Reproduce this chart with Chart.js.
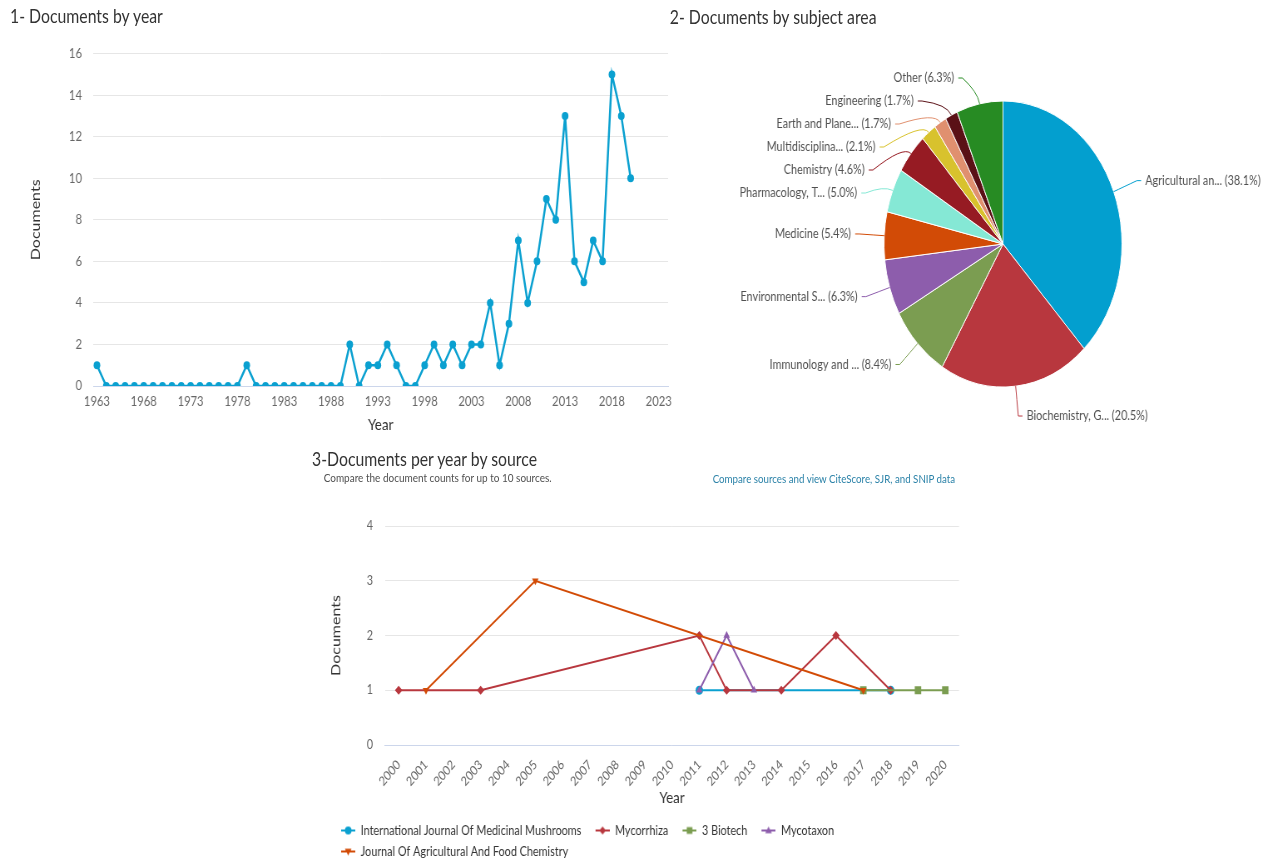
<!DOCTYPE html>
<html>
<head>
<meta charset="utf-8">
<script src="https://cdn.jsdelivr.net/npm/chart.js@4.4.0/dist/chart.umd.min.js"></script>
<style>
  html, body { margin: 0; padding: 0; background: #fff; overflow: hidden; }
  /* the reference is squeezed horizontally, so lay out wide and squeeze the lot */
  #page { position: absolute; left: 0; top: 0; width: 1534px; height: 870px;
          transform: scaleX(0.832); transform-origin: 0 0; font-family: Lato, sans-serif; }
  .title { position: absolute; font-size: 19px; line-height: 20px; color: #333; white-space: nowrap; }
  .note { position: absolute; font-size: 12px; line-height: 14px; white-space: nowrap; }
  canvas { position: absolute; }
</style>
</head>
<body>
<div id="page">
  <div class="title" style="left:12px;top:6px">1- Documents by year</div>
  <div class="title" style="left:805px;top:7px">2- Documents by subject area</div>
  <div class="title" style="left:375px;top:449px">3-Documents per year by source</div>
  <div class="note" style="left:389px;top:471px;color:#505050">Compare the document counts for up to 10 sources.</div>
  <div class="note" style="left:790px;top:471px;width:358px;text-align:right;color:#2b82a8;font-size:11.7px">Compare sources and view CiteScore, SJR, and SNIP data</div>
  <canvas id="c1" width="830" height="408" style="left:0;top:32px"></canvas>
  <canvas id="c2" width="693" height="420" style="left:840px;top:40px"></canvas>
  <canvas id="c3" width="782" height="378" style="left:393px;top:490px"></canvas>
</div>
<script>
// 1- documents by year
const years = [1963, 1964, 1965, 1966, 1967, 1968, 1969, 1970, 1971, 1972, 1973, 1974, 1975, 1976, 1977,
  1978, 1979, 1980, 1981, 1982, 1983, 1984, 1985, 1986, 1987, 1988, 1989, 1990, 1991, 1992, 1993, 1994,
  1995, 1996, 1997, 1998, 1999, 2000, 2001, 2002, 2003, 2004, 2005, 2006, 2007, 2008, 2009, 2010, 2011,
  2012, 2013, 2014, 2015, 2016, 2017, 2018, 2019, 2020];
const docsPerYear = [1, 0, 0, 0, 0, 0, 0, 0, 0, 0, 0, 0, 0, 0, 0,
  0, 1, 0, 0, 0, 0, 0, 0, 0, 0, 0, 0, 2, 0, 1, 1, 2,
  1, 0, 0, 1, 2, 1, 2, 1, 2, 2, 4, 1, 3, 7, 4, 6, 9,
  8, 13, 6, 5, 7, 6, 15, 13, 10];
const yearTicks = [1963, 1968, 1973, 1978, 1983, 1988, 1993, 1998, 2003, 2008, 2013, 2018, 2023];

// 2- documents by subject area (%)
const subjects = ['Agricultural an...', 'Biochemistry, G...', 'Immunology and ...', 'Environmental S...',
  'Medicine', 'Pharmacology, T...', 'Chemistry', 'Multidisciplina...', 'Earth and Plane...', 'Engineering', 'Other'];
const subjectShare = [38.1, 20.5, 8.4, 6.3, 5.4, 5.0, 4.6, 2.1, 1.7, 1.7, 6.3];
const subjectColors = ['#039fcf', '#b8373e', '#7b9d51', '#8d5dac', '#d24b06', '#85e8d5',
  '#961b23', '#d8c22d', '#e0906f', '#5a1016', '#278b23'];

// 3- documents per year by source
const sourceYears = ['2000', '2001', '2002', '2003', '2004', '2005', '2006', '2007', '2008', '2009', '2010',
  '2011', '2012', '2013', '2014', '2015', '2016', '2017', '2018', '2019', '2020'];
const sourceNames = ['International Journal Of Medicinal Mushrooms', 'Mycorrhiza', '3 Biotech', 'Mycotaxon',
  'Journal Of Agricultural And Food Chemistry'];
const ijmmDocs       = [null, null, null, null, null, null, null, null, null, null, null, 1, null, null, null, null, null, null, 1, null, null];
const mycorrhizaDocs = [1, null, null, 1, null, null, null, null, null, null, null, 2, 1, null, 1, null, 2, null, 1, null, null];
const biotechDocs    = [null, null, null, null, null, null, null, null, null, null, null, null, null, null, null, null, null, 1, null, 1, 1];
const mycotaxonDocs  = [null, null, null, null, null, null, null, null, null, null, null, 1, 2, 1, null, null, null, null, null, null, null];
const jafcDocs       = [null, 1, null, null, null, 3, null, null, null, null, null, null, null, null, null, null, null, 1, null, null, null];
const sourceCounts = [ijmmDocs, mycorrhizaDocs, biotechDocs, mycotaxonDocs, jafcDocs];

const sourceColors = ['#0aa0d0', '#b8373e', '#7b9d51', '#8d5dac', '#d24b06'];
const sourceMarkers = [['circle', 0], ['rectRot', 0], ['rect', 0], ['triangle', 0], ['triangle', 180]];

const TICK = '#666';
const AXIS = '#333';
const GRID = '#e6e6e6';
const BASE = '#ccd6eb';

function markerPath(g, style, rot, x, y, r) {
  g.beginPath();
  if (style === 'circle') {
    g.arc(x, y, r, 0, Math.PI * 2);
  } else if (style === 'rect') {
    g.rect(x - r * 0.85, y - r * 0.85, r * 1.7, r * 1.7);
  } else if (style === 'rectRot') {
    g.moveTo(x, y - r); g.lineTo(x + r, y); g.lineTo(x, y + r); g.lineTo(x - r, y);
  } else {
    const d = rot ? -1 : 1;
    g.moveTo(x, y - d * r); g.lineTo(x + r, y + d * r * 0.7); g.lineTo(x - r, y + d * r * 0.7);
  }
  g.closePath();
}

function legendIcon(color, style, rot) {
  const c = document.createElement('canvas');
  c.width = 26; c.height = 12;
  const g = c.getContext('2d');
  g.strokeStyle = color; g.fillStyle = color; g.lineWidth = 2;
  g.beginPath(); g.moveTo(9, 6); g.lineTo(26, 6); g.stroke();
  markerPath(g, style, rot, 17.5, 6, 4);
  g.fill();
  return c;
}

const pieLabels = {
  id: 'pieLabels',
  afterDatasetsDraw(chart) {
    const ctx = chart.ctx;
    const arcs = chart.getDatasetMeta(0).data;
    const dist = 30, lineH = 23;
    const topLimit = chart.chartArea.top - lineH;
    const items = arcs.map((arc, i) => {
      const p = arc.getProps(['x', 'y', 'startAngle', 'endAngle', 'outerRadius'], true);
      const mid = (p.startAngle + p.endAngle) / 2;
      const R = p.outerRadius + dist;
      return { i, cx: p.x, cy: p.y, r: p.outerRadius, R, mid,
        side: Math.cos(mid) < 0 ? -1 : 1, y: p.y + R * Math.sin(mid) };
    });
    [-1, 1].forEach(side => {
      let prev = -Infinity;
      items.filter(it => it.side === side).sort((a, b) => a.y - b.y).forEach(it => {
        it.y = Math.max(it.y, topLimit, prev + lineH);
        prev = it.y;
      });
    });
    ctx.save();
    ctx.font = '13px Lato';
    ctx.textBaseline = 'middle';
    items.forEach(it => {
      const s = Math.max(-1, Math.min(1, (it.y - it.cy) / it.R));
      const lx = it.cx + it.side * Math.cos(Math.asin(s)) * it.R;
      const ex = it.cx + it.r * Math.cos(it.mid), ey = it.cy + it.r * Math.sin(it.mid);
      const qx = it.cx + (it.r + 12) * Math.cos(it.mid), qy = it.cy + (it.r + 12) * Math.sin(it.mid);
      ctx.strokeStyle = subjectColors[it.i];
      ctx.lineWidth = 1;
      ctx.beginPath();
      ctx.moveTo(lx + it.side * 5, it.y);
      ctx.lineTo(lx, it.y);
      ctx.quadraticCurveTo(qx, qy, ex, ey);
      ctx.stroke();
      ctx.fillStyle = '#505050';
      ctx.textAlign = it.side < 0 ? 'right' : 'left';
      ctx.fillText(subjects[it.i] + ' (' + subjectShare[it.i].toFixed(1) + '%)', lx + it.side * 10, it.y);
    });
    ctx.restore();
  }
};

function build() {
  Chart.defaults.font.family = 'Lato, sans-serif';

  new Chart(document.getElementById('c1'), {
    type: 'line',
    data: {
      datasets: [{
        data: years.map((yr, i) => ({ x: yr, y: docsPerYear[i] })),
        borderColor: '#0aa0d0', backgroundColor: '#0aa0d0',
        borderWidth: 2.5, pointRadius: 4, pointBorderWidth: 0, tension: 0
      }]
    },
    options: {
      responsive: false, animation: false,
      layout: { padding: { left: 0, right: 27, top: 0, bottom: 0 } },
      plugins: { legend: { display: false }, tooltip: { enabled: false } },
      scales: {
        x: {
          type: 'linear', min: 1962.6, max: 2024,
          afterBuildTicks: s => { s.ticks = yearTicks.map(v => ({ value: v })); },
          afterFit: s => { s.height = 54; },
          grid: { display: false },
          border: { color: BASE },
          ticks: { padding: 0, color: TICK, font: { size: 13.5 }, maxRotation: 0, autoSkip: false, callback: v => String(v) },
          title: { display: true, text: 'Year', color: AXIS, font: { size: 16 }, padding: { top: 0, bottom: 6 } }
        },
        y: {
          min: 0, max: 16,
          afterFit: s => { s.width = 112; },
          grid: { color: GRID, drawTicks: false },
          border: { display: false },
          ticks: { stepSize: 2, padding: 13.5, color: TICK, font: { size: 13.5 } },
          title: { display: true, text: 'Documents', color: AXIS, font: { size: 16 }, padding: { top: 33.7, bottom: 0 } }
        }
      }
    }
  });

  new Chart(document.getElementById('c2'), {
    type: 'pie',
    data: {
      labels: subjects,
      datasets: [{ data: subjectShare, backgroundColor: subjectColors, borderColor: '#fff', borderWidth: 1, radius: 143 }]
    },
    options: {
      responsive: false, animation: false,
      layout: { padding: { left: 222.5, right: 184.5, top: 61, bottom: 73 } },
      plugins: { legend: { display: false }, tooltip: { enabled: false } }
    },
    plugins: [pieLabels]
  });

  const icons = sourceNames.map((n, i) => legendIcon(sourceColors[i], sourceMarkers[i][0], sourceMarkers[i][1]));

  new Chart(document.getElementById('c3'), {
    type: 'line',
    data: {
      labels: sourceYears,
      datasets: sourceNames.map((name, i) => ({
        label: name,
        data: sourceCounts[i],
        borderColor: sourceColors[i], backgroundColor: sourceColors[i],
        pointBorderColor: sourceColors[i], pointBackgroundColor: sourceColors[i],
        pointStyle: sourceMarkers[i][0], pointRotation: sourceMarkers[i][1],
        pointRadius: sourceMarkers[i][0] === 'rect' ? 5.5 : 4.5, pointBorderWidth: 0,
        borderWidth: 2, spanGaps: true, tension: 0,
        order: sourceNames.length - i
      }))
    },
    options: {
      responsive: false, animation: false,
      layout: { padding: { left: 0, right: 22.4, top: 36, bottom: 0 } },
      plugins: {
        tooltip: { enabled: false },
        legend: {
          position: 'bottom', align: 'start',
          labels: {
            usePointStyle: true, pointStyleWidth: 26, padding: 8, color: AXIS, font: { size: 13 },
            generateLabels: chart => chart.data.datasets.map((ds, i) => ({
              text: ds.label, pointStyle: icons[i], fillStyle: sourceColors[i], strokeStyle: sourceColors[i],
              lineWidth: 0, hidden: false, datasetIndex: i, fontColor: AXIS
            }))
          }
        }
      },
      scales: {
        x: {
          offset: true,
          afterFit: s => { s.height = 71; },
          grid: { display: false },
          border: { color: BASE },
          ticks: { minRotation: 45, maxRotation: 45, autoSkip: false, padding: 4, color: TICK, font: { size: 13 } },
          title: { display: true, text: 'Year', color: AXIS, font: { size: 16 }, padding: { top: 0, bottom: 8.4 } }
        },
        y: {
          min: 0, max: 4,
          afterFit: s => { s.width = 69.7; },
          grid: { color: GRID, drawTicks: false },
          border: { display: false },
          ticks: { stepSize: 1, padding: 14.4, color: TICK, font: { size: 13 } },
          title: { display: true, text: 'Documents', color: AXIS, font: { size: 16 }, padding: { top: 1.2, bottom: 0 } }
        }
      }
    }
  });
}

Promise.all([document.fonts.load('13px Lato'), document.fonts.load('16px Lato')]).then(build, build);
</script>
</body>
</html>
